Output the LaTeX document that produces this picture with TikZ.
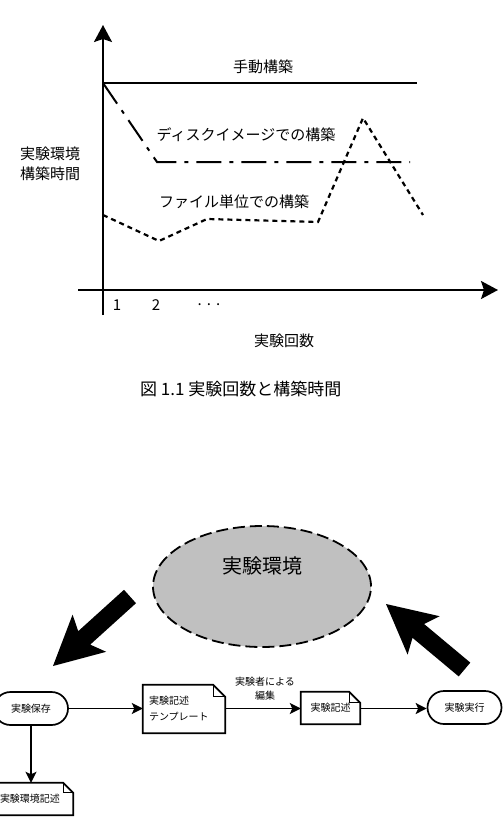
\documentclass[tikz,border=0pt]{standalone}
\usepackage{fontspec}
\setmainfont{Noto Sans CJK JP}
\usetikzlibrary{arrows.meta,shapes.geometric,calc}
\begin{document}
\begin{tikzpicture}[x=1pt,y=-1pt,
  lbl/.style={font=\fontsize{15}{18}\selectfont, inner sep=0pt},
  axisline/.style={line width=2pt, -{Stealth[length=17pt,width=18pt,inset=3pt]}},
  manual/.style={line width=2pt},
  diskline/.style={line width=2pt, dash pattern=on 25pt off 8pt on 4pt off 8pt},
  fileline/.style={line width=2.2pt, dash pattern=on 5pt off 4pt},
  bigarrow/.style={fill=black},
  stadium/.style={draw, line width=1.7pt, rounded corners=16.5pt, minimum width=74pt, minimum height=33pt, inner sep=0pt, font=\fontsize{10}{12}\selectfont},
  docbox/.style={draw=none, inner sep=0pt, font=\fontsize{10}{16}\selectfont},
  docline/.style={line width=1.7pt},
  foldline/.style={line width=0.8pt},
  flow/.style={line width=1.7pt, -{Stealth[length=11pt,width=11pt,inset=2.5pt]}},
  smalllbl/.style={font=\fontsize{10}{14}\selectfont, inner sep=0pt, align=center}
]
\useasboundingbox (0,0) rectangle (503,833);

% ---------- graph ----------
\coordinate (yb) at (103,315);
\coordinate (yt) at (103,25);
\coordinate (xl) at (78,290);
\coordinate (xr) at (498,290);
\draw[axisline] (yb) -- (yt);
\draw[axisline] (xl) -- (xr);

\coordinate (m0) at (103,83);
\coordinate (m1) at (417,83);
\draw[manual] (m0) -- (m1);

\coordinate (d1) at (157,162);
\coordinate (d2) at (410,162);
\draw[diskline] (m0) -- (d1) -- (d2);

\coordinate (f0) at (103,215);
\coordinate (f1) at (159,241);
\coordinate (f2) at (207,219);
\coordinate (f3) at (318,222);
\coordinate (f4) at (363,118);
\coordinate (f5) at (423,215);
\draw[fileline] (f0) -- (f1) -- (f2) -- (f3) -- (f4) -- (f5);

\node[lbl] (lman) at (263,67) {手動構築};
\node[lbl] (ldisk) at (246,135) {ディスクイメージでの構築};
\node[lbl] (lfile) at (234,202) {ファイル単位での構築};
\node[lbl, align=center, font=\fontsize{15}{20}\selectfont] (ly) at (50,164) {実験環境\\構築時間};
\node[lbl, font=\fontsize{15}{16}\selectfont] (t1) at (117,305) {1};
\node[lbl, font=\fontsize{15}{16}\selectfont] (t2) at (156,305) {2};
\node[lbl, font=\fontsize{15}{16}\selectfont] (t3) at (209,305) {.\,\,.\,\,.};
\node[lbl] (lx) at (284,341) {実験回数};
\node[lbl, font=\fontsize{17}{20}\selectfont, anchor=west] (cap) at (140,389) {図 1.1 実験回数と構築時間};

% ---------- cycle diagram ----------
\node[ellipse, draw, fill={rgb,255:red,192;green,192;blue,192}, line width=1.8pt,
      dash pattern=on 12pt off 5pt, minimum width=218pt, minimum height=121pt, inner sep=0pt] (env) at (262,586.5) {};
\node[inner sep=0pt, font=\fontsize{20}{24}\selectfont] (envtxt) at (262,566) {実験環境};

% big arrows
\fill[bigarrow] (124.0,589.8) -- (136.0,603.2) -- (90.2,644.6) -- (106.2,651.8) -- (53,666)
  -- (72.6,614.6) -- (78.2,631.2) -- cycle;
\fill[bigarrow] (470.3,662.6) -- (458.7,676.4) -- (412.5,637.8) -- (407.6,654.6) -- (386,604)
  -- (439.6,616.2) -- (424.1,624.0) -- cycle;

% flow nodes
\node[stadium] (save) at (31,708.5) {実験保存};
\node[stadium] (run) at (464.5,707.5) {実験実行};
\node[docbox, minimum width=82pt, minimum height=48pt, text width=70pt, align=left] (tmpl) at (184,709) {実験記述\\テンプレート};
\node[docbox, minimum width=59pt, minimum height=32pt, align=center] (desc) at (330.5,708) {\raisebox{-2pt}{実験記述}};
\node[docbox, minimum width=86pt, minimum height=32pt, align=center] (envdesc) at (30,799) {実験環境記述};

\foreach \n/\f in {tmpl/12, desc/11, envdesc/10}{
  \draw[docline] (\n.south west) -- (\n.north west) -- ([xshift=-\f pt]\n.north east)
    -- ([yshift=-\f pt]\n.north east) -- (\n.south east) -- cycle;
  \draw[foldline] ([xshift=-\f pt]\n.north east) -- ([xshift=-\f pt, yshift=-\f pt]\n.north east)
    -- ([yshift=-\f pt]\n.north east);
}

\node[smalllbl] (edit) at (265,689) {実験者による\\編集};

\draw[flow] (save.east) -- (tmpl.west |- save.east);
\draw[flow] (tmpl.east |- save.east) -- (desc.west |- save.east);
\draw[flow] (desc.east |- save.east) -- (run.west |- save.east);
\draw[flow] (save.south) -- (save.south |- envdesc.north);
\end{tikzpicture}
\end{document}
